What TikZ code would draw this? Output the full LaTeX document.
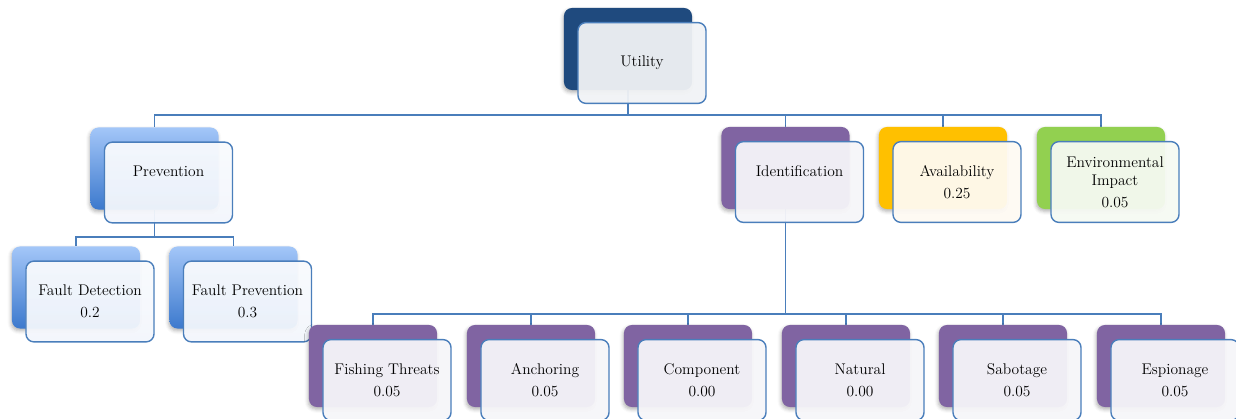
\documentclass[tikz,border=0pt]{standalone}
\usetikzlibrary{shadows.blur,backgrounds}

\definecolor{linkblue}{HTML}{4A7EBB}
\definecolor{navy}{HTML}{1F4A7E}
\definecolor{navypale}{HTML}{F0F2F5}
\definecolor{skytop}{HTML}{A3C6F8}
\definecolor{skybot}{HTML}{3C79CD}
\definecolor{skypale}{HTML}{F2F6FC}
\definecolor{plum}{HTML}{8064A2}
\definecolor{plumpale}{HTML}{F6F5F9}
\definecolor{amber}{HTML}{FFC000}
\definecolor{amberpale}{HTML}{FEFAF2}
\definecolor{leaf}{HTML}{92D050}
\definecolor{leafpale}{HTML}{F6FAF2}

\tikzset{
  back/.style={rounded corners=0.2cm, minimum width=3.2cm, minimum height=2.05cm,
    blur shadow={shadow xshift=-0.6pt, shadow yshift=-1.6pt, shadow blur radius=2.5pt, shadow opacity=30}},
  front/.style={rounded corners=0.2cm, minimum width=3.2cm, minimum height=2.02cm,
    draw=linkblue, line width=1pt, fill opacity=0.95, text opacity=1, align=center,
    font=\fontsize{11}{15.5}\selectfont},
  link/.style={draw=linkblue, line width=1pt}
}

\begin{document}
\begin{tikzpicture}[x=0.025cm, y=-0.025cm]
    \useasboundingbox (0,0) rectangle (1236,419);
    % bus levels
    \coordinate (busTop) at (0,115);
    \coordinate (busPrev) at (0,237);
    \coordinate (busIdent) at (0,314);

    % root
    \node[back, fill=navy] (utilB) at (628,49) {};
    \node[front, fill=navypale] (util) at (642,63) {Utility};

    % second level
    \node[back, top color=skytop, bottom color=skybot] (prevB) at (154.5,168.5) {};
    \node[front, top color=skypale!50!white, bottom color=skypale] (prev) at (168.5,182.5) {Prevention\\\mbox{}};
    \node[back, fill=plum] (identB) at (785.5,168) {};
    \node[front, fill=plumpale] (ident) at (799.5,182) {Identification\\\mbox{}};
    \node[back, fill=amber] (availB) at (943,168) {};
    \node[front, fill=amberpale] (avail) at (957,182) {Availability\\0.25};
    \node[back, fill=leaf] (envB) at (1101,168) {};
    \node[front, fill=leafpale] (env) at (1115,182) {Environmental\\[-2.8pt]Impact\\0.05};

    % under prevention
    \node[back, top color=skytop, bottom color=skybot] (detB) at (76,287.5) {};
    \node[front, top color=skypale!50!white, bottom color=skypale] (det) at (90,301.5) {Fault Detection\\0.2};
    \node[back, top color=skytop, bottom color=skybot] (fpB) at (233.5,287.5) {};
    \node[front, top color=skypale!50!white, bottom color=skypale] (fp) at (247.5,301.5) {Fault Prevention\\0.3};

    % under identification
    \node[back, fill=plum] (fishB) at (373,366) {};
    \node[front, fill=plumpale] (fish) at (387,380) {Fishing Threats\\0.05};
    \node[back, fill=plum] (anchB) at (531,366) {};
    \node[front, fill=plumpale] (anch) at (545,380) {Anchoring\\0.05};
    \node[back, fill=plum] (compB) at (688,366) {};
    \node[front, fill=plumpale] (comp) at (702,380) {Component\\0.00};
    \node[back, fill=plum] (natB) at (846,366) {};
    \node[front, fill=plumpale] (nat) at (860,380) {Natural\\0.00};
    \node[back, fill=plum] (sabB) at (1003,366) {};
    \node[front, fill=plumpale] (sab) at (1017,380) {Sabotage\\0.05};
    \node[back, fill=plum] (espB) at (1161,366) {};
    \node[front, fill=plumpale] (esp) at (1175,380) {Espionage\\0.05};

    % connectors
    \begin{scope}[on background layer]
        \draw[link] (utilB.south) -- (utilB.south |- busTop) -| (prevB.north);
        \draw[link] (utilB.south |- busTop) -| (identB.north);
        \draw[link] (utilB.south |- busTop) -| (availB.north);
        \draw[link] (utilB.south |- busTop) -| (envB.north);
        \draw[link] (prevB.south) -- (prevB.south |- busPrev) -| (detB.north);
        \draw[link] (prevB.south |- busPrev) -| (fpB.north);
        \draw[link] (identB.south) -- (identB.south |- busIdent);
        \foreach \leaf in {fishB,anchB,compB,natB,sabB,espB}
            \draw[link] (identB.south |- busIdent) -| (\leaf.north);
    \end{scope}
\end{tikzpicture}
\end{document}
